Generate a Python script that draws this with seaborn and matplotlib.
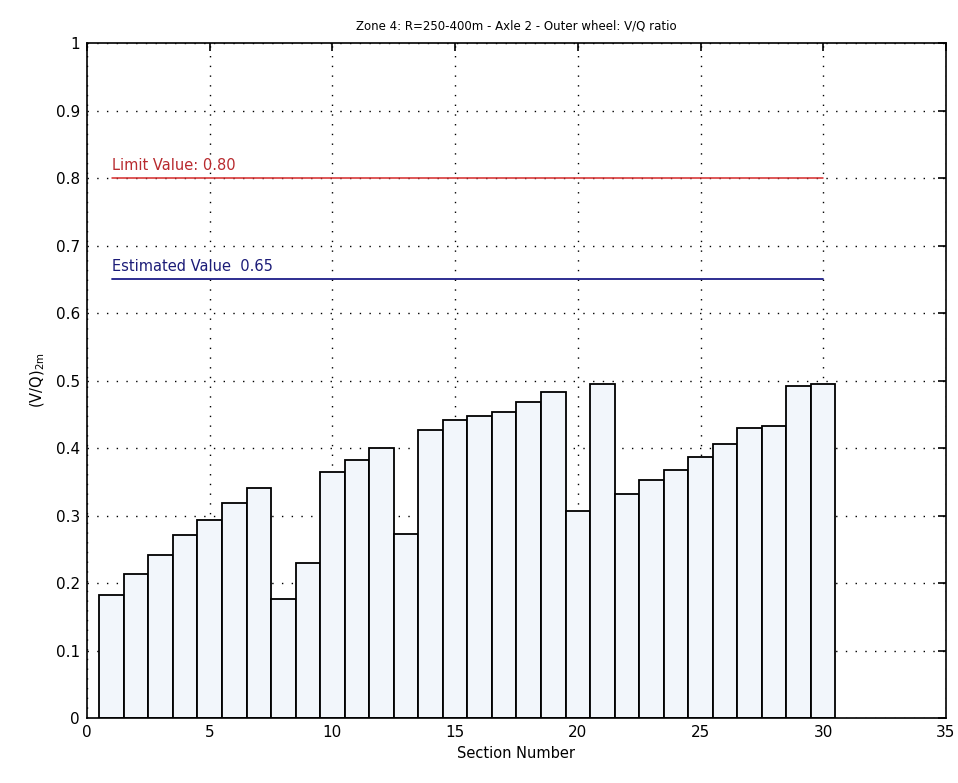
import numpy as np
import pandas as pd
import seaborn as sns
import matplotlib
matplotlib.use("Agg")
import matplotlib.pyplot as plt

# bar values
section = list(range(1, 31))
vq_ratio = [0.182, 0.214, 0.241, 0.271, 0.294, 0.318, 0.341, 0.176, 0.229, 0.365,
            0.383, 0.400, 0.273, 0.427, 0.442, 0.448, 0.454, 0.468, 0.483, 0.306,
            0.495, 0.332, 0.353, 0.368, 0.386, 0.406, 0.430, 0.433, 0.492, 0.495]
limit_value = 0.80
estimated_value = 0.65
ref_x = [1, 30]
xticks = [0, 5, 10, 15, 20, 25, 30, 35]
yticks = [0, 0.1, 0.2, 0.3, 0.4, 0.5, 0.6, 0.7, 0.8, 0.9, 1]
yticklabels = ["0", "0.1", "0.2", "0.3", "0.4", "0.5", "0.6", "0.7", "0.8", "0.9", "1"]

df = pd.DataFrame({"section": section, "vq": vq_ratio})

sns.set_style("white")
plt.rcParams["font.family"] = ["DejaVu Sans"]
plt.rcParams["text.color"] = "black"
plt.rcParams["axes.labelcolor"] = "black"

fig = plt.figure(figsize=(9.58, 7.83), dpi=100)
ax = fig.add_axes([0.0908, 0.083, 0.8966, 0.862])

sns.barplot(data=df, x="section", y="vq", native_scale=True, width=1,
            color="#f2f6fb", saturation=1, edgecolor="black", linewidth=1.3,
            errorbar=None, ax=ax, zorder=2)

# reference lines
ax.plot(ref_x, [limit_value, limit_value], color="#d42a2a", lw=1.1, zorder=3)
ax.plot(ref_x, [estimated_value, estimated_value], color="#1c1c88", lw=1.3, zorder=3)
ax.text(ref_x[0], limit_value + 0.008, "Limit Value: 0.80", color="#b82a2e",
        fontsize=10.5, ha="left", va="bottom")
ax.text(ref_x[0], estimated_value + 0.008, "Estimated Value  0.65", color="#1c1c78",
        fontsize=10.5, ha="left", va="bottom")

ax.set_xlim(0, 35)
ax.set_ylim(0, 1)
ax.set_xticks(xticks)
ax.set_xticklabels([str(t) for t in xticks])
ax.set_yticks(yticks)
ax.set_yticklabels(yticklabels)

ax.set_axisbelow(True)
ax.grid(True, color="black", linestyle=(0, (1, 6)), linewidth=1.0)
for s in ax.spines.values():
    s.set_visible(True)
    s.set_color("black")
    s.set_linewidth(1.2)
ax.tick_params(direction="in", length=6, width=1.2, top=True, right=True,
               labelsize=11, colors="black", pad=5)

ax.set_xlabel("Section Number", fontsize=10.5, labelpad=4)
ax.set_ylabel(r"(V/Q)$_{\mathrm{2m}}$", fontsize=10.5, labelpad=6)
ax.set_title("Zone 4: R=250-400m - Axle 2 - Outer wheel: V/Q ratio", fontsize=8.5, pad=10)

fig.savefig("out.png", dpi=100, facecolor="white")
